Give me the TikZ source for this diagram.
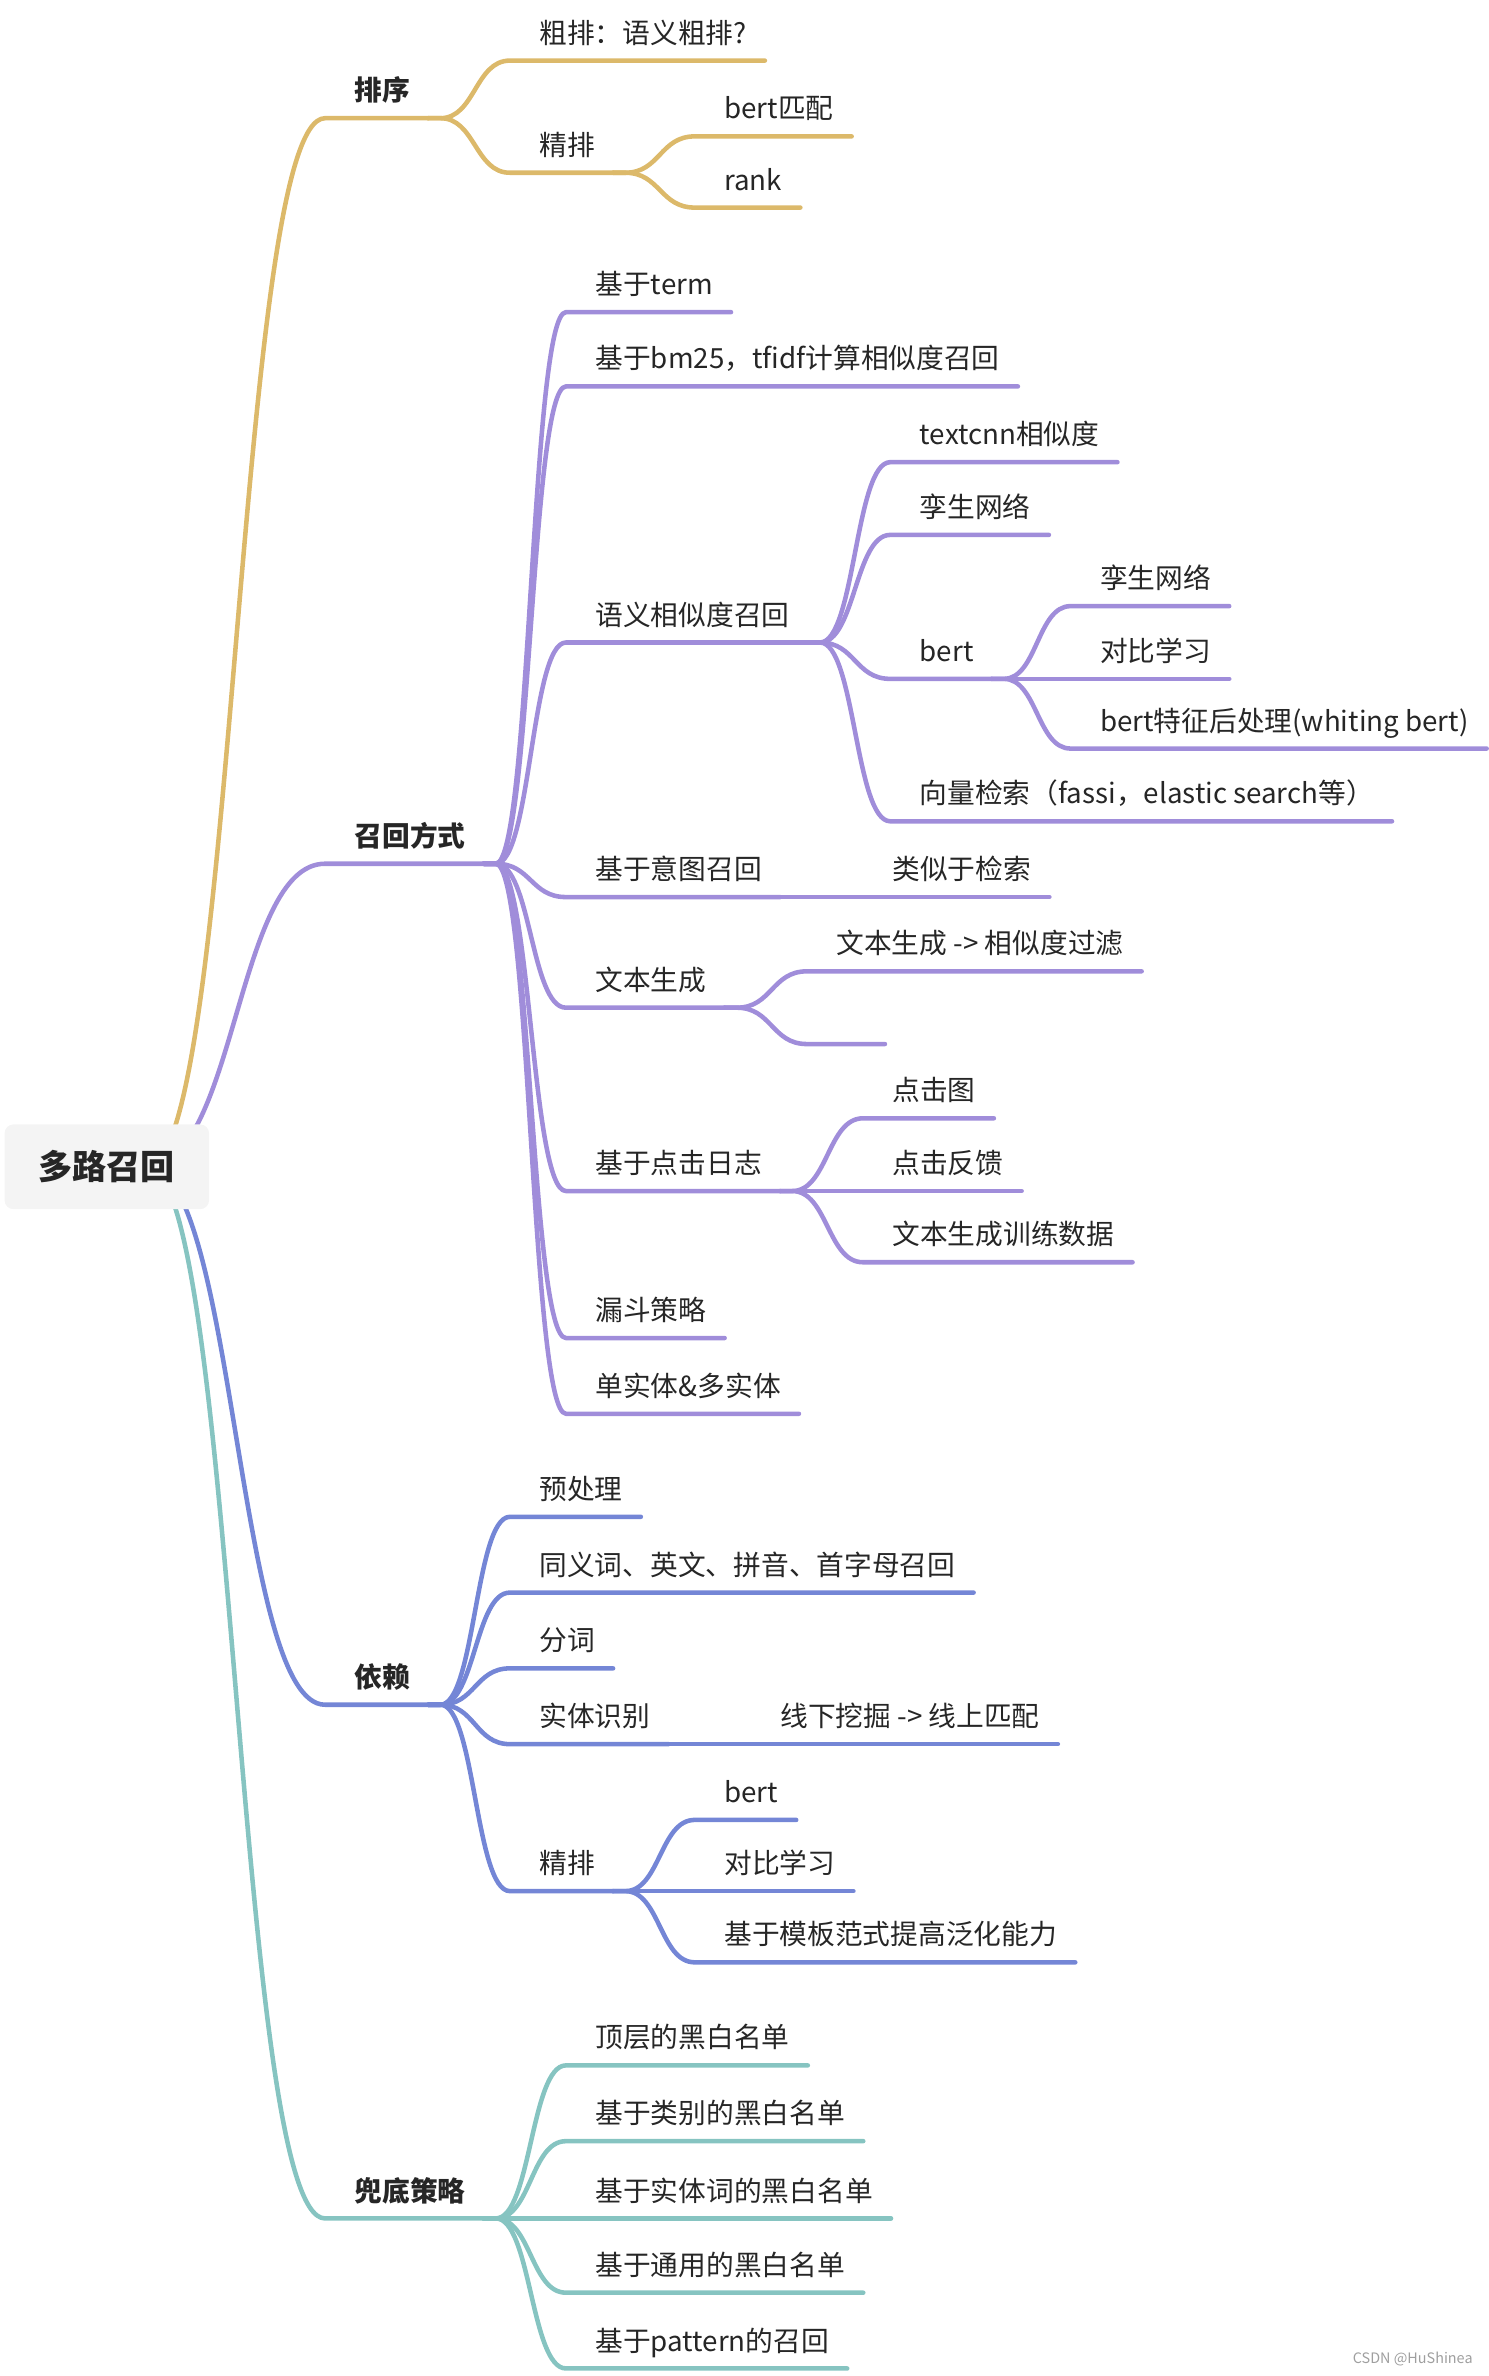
\documentclass[tikz,border=0pt]{standalone}
\usepackage{fontspec}
\setmainfont{Noto Sans CJK SC}
\usetikzlibrary{calc,backgrounds}

\definecolor{yel}{RGB}{220,185,106}
\definecolor{vio}{RGB}{160,141,218}
\definecolor{blu}{RGB}{116,134,214}
\definecolor{tea}{RGB}{134,196,193}
\definecolor{ink}{RGB}{38,38,38}
\definecolor{boxgray}{RGB}{244,244,244}

% curved limb from a branch point to the underline of a child
\newcommand{\twig}[3]{%
  \coordinate (a) at ($(#2)+(8,0)$);
  \coordinate (b) at ($(#3.south west)+(-7.5,0)$);
  \coordinate (m) at ($(a)!.5!(b)$);
  \path[limb, #1] (#2) -- (a) .. controls (m |- a) and (m |- b) .. (b) -- (#3.south east);
}

\begin{document}
\begin{tikzpicture}[x=1pt, y=-1pt,
  leaf/.style={anchor=south west, inner xsep=12pt, inner ysep=0pt, outer sep=0pt,
    text height=14pt, text depth=11.5pt, text=ink, font=\fontsize{18.3}{22}\selectfont},
  topic/.style={leaf, font=\fontsize{18.3}{22}\selectfont\bfseries},
  rootbox/.style={fill=boxgray, rounded corners=6pt, minimum width=135pt, minimum height=56pt,
    inner sep=0pt, text=ink, font=\fontsize{22.5}{27}\selectfont\bfseries},
  limb/.style={draw, line width=3pt, line cap=round, line join=round}]
\useasboundingbox (0,0) rectangle (982,1568);

% root
\node[rootbox] (root) at (70.5,770) {多路召回};
\coordinate (hub) at ($(root.center)+(18.5,0)$);

% sorting
\node[topic] (sort) at (222,78) {排序};
\node[leaf] (coarse) at (344,40) {粗排：语义粗排?};
\node[leaf] (fine) at (344,114) {精排};
\node[leaf] (bertm) at (466,90) {bert匹配};
\node[leaf] (rank) at (466,137) {rank};

% recall
\node[topic] (recall) at (222,570) {召回方式};
\node[leaf] (term) at (381,206) {基于term};
\node[leaf] (bm) at (381,255) {基于bm25，tfidf计算相似度召回};
\node[leaf] (sem) at (381,424) {语义相似度召回};
\node[leaf] (tcnn) at (595,305) {textcnn相似度};
\node[leaf] (siam) at (595,353) {孪生网络};
\node[leaf] (bert) at (595,448) {bert};
\node[leaf] (bsiam) at (714,400) {孪生网络};
\node[leaf] (bcon) at (714,448) {对比学习};
\node[leaf] (bpost) at (714,494) {bert特征后处理(whiting bert)};
\node[leaf] (vec) at (595,542) {向量检索（fassi，elastic search等）};
\node[leaf] (intent) at (381,592) {基于意图召回};
\node[leaf] (like) at (577,592) {类似于检索};
\node[leaf] (gen) at (381,665) {文本生成};
\node[leaf] (genf) at (540,641) {文本生成 -> 相似度过滤};
\node[leaf, minimum width=44pt] (gene) at (540,689) {};
\node[leaf] (click) at (381,786) {基于点击日志};
\node[leaf] (cmap) at (577,738) {点击图};
\node[leaf] (cfb) at (577,786) {点击反馈};
\node[leaf] (cdata) at (577,833) {文本生成训练数据};
\node[leaf] (funnel) at (381,883) {漏斗策略};
\node[leaf] (multi) at (381,933) {单实体\&多实体};

% dependencies
\node[topic] (dep) at (222,1125) {依赖};
\node[leaf] (pre) at (344,1001) {预处理};
\node[leaf] (syn) at (344,1051) {同义词、英文、拼音、首字母召回};
\node[leaf] (seg) at (344,1101) {分词};
\node[leaf] (ner) at (344,1151) {实体识别};
\node[leaf] (nerm) at (503,1151) {线下挖掘 -> 线上匹配};
\node[leaf] (fine2) at (344,1248) {精排};
\node[leaf] (fbert) at (466,1201) {bert};
\node[leaf] (fcon) at (466,1248) {对比学习};
\node[leaf] (ftpl) at (466,1295) {基于模板范式提高泛化能力};

% fallback
\node[topic] (fallback) at (222,1464) {兜底策略};
\node[leaf] (top) at (381,1363) {顶层的黑白名单};
\node[leaf] (cat) at (381,1413) {基于类别的黑白名单};
\node[leaf] (ent) at (381,1464) {基于实体词的黑白名单};
\node[leaf] (common) at (381,1513) {基于通用的黑白名单};
\node[leaf] (pat) at (381,1563) {基于pattern的召回};

% watermark
\node[anchor=east, inner sep=0pt, text=gray!75, font=\fontsize{9.5}{11}\selectfont] (mark) at (972,1557) {CSDN @HuShinea};

\begin{scope}[on background layer]
% limbs
\foreach \p/\c in {hub/sort, sort.south east/coarse, sort.south east/fine,
  fine.south east/bertm, fine.south east/rank}
  {\twig{yel}{\p}{\c}}
\foreach \p/\c in {hub/recall, recall.south east/term, recall.south east/bm,
  recall.south east/sem, recall.south east/intent, recall.south east/gen,
  recall.south east/click, recall.south east/funnel, recall.south east/multi,
  sem.south east/tcnn, sem.south east/siam, sem.south east/bert, sem.south east/vec,
  bert.south east/bsiam, bert.south east/bcon, bert.south east/bpost,
  intent.south east/like, gen.south east/genf, gen.south east/gene,
  click.south east/cmap, click.south east/cfb, click.south east/cdata}
  {\twig{vio}{\p}{\c}}
\foreach \p/\c in {hub/dep, dep.south east/pre, dep.south east/syn, dep.south east/seg,
  dep.south east/ner, dep.south east/fine2, ner.south east/nerm,
  fine2.south east/fbert, fine2.south east/fcon, fine2.south east/ftpl}
  {\twig{blu}{\p}{\c}}
\foreach \p/\c in {hub/fallback, fallback.south east/top, fallback.south east/cat,
  fallback.south east/ent, fallback.south east/common, fallback.south east/pat}
  {\twig{tea}{\p}{\c}}
\end{scope}
\end{tikzpicture}
\end{document}
